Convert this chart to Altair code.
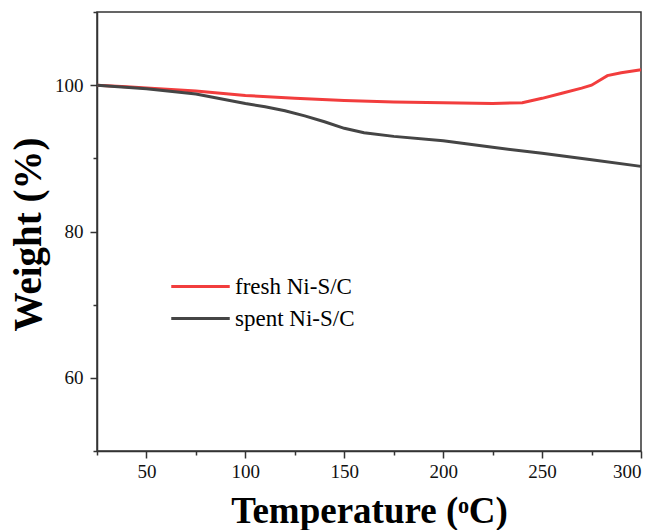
import altair as alt
import pandas as pd

# ---- data ----
temp_fresh = [25, 40, 50, 75, 100, 125, 150, 175, 200, 225, 240, 250, 260, 270, 275, 280, 283, 290, 300]
weight_fresh = [100.0, 99.8, 99.6, 99.2, 98.6, 98.2, 97.9, 97.7, 97.6, 97.5, 97.6, 98.2, 98.9, 99.6, 100.0, 100.8, 101.3, 101.7, 102.1]
temp_spent = [25, 50, 75, 100, 110, 120, 130, 140, 150, 160, 175, 200, 225, 250, 275, 300]
weight_spent = [100.0, 99.5, 98.8, 97.5, 97.05, 96.5, 95.8, 95.0, 94.1, 93.5, 93.0, 92.4, 91.5, 90.7, 89.8, 88.9]

series_names = ["fresh Ni-S/C", "spent Ni-S/C"]
series_colors = ["#f23d3d", "#454545"]

x_ticks = [25, 50, 75, 100, 125, 150, 175, 200, 225, 250, 275, 300]
y_ticks = [50, 60, 70, 80, 90, 100, 110]

df = pd.concat([
    pd.DataFrame({"T": temp_fresh, "W": weight_fresh, "s": series_names[0], "o": 0}),
    pd.DataFrame({"T": temp_spent, "W": weight_spent, "s": series_names[1], "o": 1}),
])

FONT = "Liberation Serif, Times New Roman, DejaVu Serif, serif"

chart = alt.Chart(df).mark_line(strokeWidth=3).encode(
    x=alt.X("T:Q",
            scale=alt.Scale(domain=[25, 300], nice=False, zero=False),
            axis=alt.Axis(
                values=x_ticks,
                title="Temperature (ᵒC)",
                labelExpr="datum.value % 50 === 0 ? datum.label : ''",
                tickSize={"condition": {"test": "datum.value % 50 === 0", "value": 7}, "value": 4},
                labelPadding=4,
                titleFontSize=37, titleFontWeight="bold",
                titleY=71, titleBaseline="alphabetic",
                grid=False,
            )),
    y=alt.Y("W:Q",
            scale=alt.Scale(domain=[50, 110], nice=False, zero=False),
            axis=alt.Axis(
                values=y_ticks,
                title="Weight (%)",
                labelExpr="datum.value % 20 === 0 ? datum.label : ''",
                tickSize={"condition": {"test": "datum.value % 20 === 0", "value": 7}, "value": 4},
                labelPadding=7,
                titleFontSize=39, titleFontWeight="bold",
                titleX=-57, titleY=222, titleAngle=-90,
                titleAlign="center", titleBaseline="alphabetic",
                grid=False,
            )),
    color=alt.Color("s:N",
                    scale=alt.Scale(domain=series_names, range=series_colors),
                    legend=alt.Legend(
                        title=None, orient="none", legendX=92, legendY=263,
                        symbolType="M-3,0H3", symbolSize=380, symbolStrokeWidth=3,
                        symbolFillColor="transparent",
                        labelFontSize=23, labelFont=FONT, rowPadding=8,
                        labelOffset=23, padding=0,
                    )),
    order="o:Q",
).properties(
    width=544, height=439,
    autosize="none",
    padding={"left": 97, "top": 12, "right": 19, "bottom": 79},
).configure_view(
    stroke="#333333", strokeWidth=1.5,
).configure_axis(
    labelFont=FONT, titleFont=FONT, labelFontSize=19,
    labelColor="#111111", titleColor="#000000",
    domainColor="#333333", domainWidth=1.5,
    tickColor="#333333", tickWidth=1.5,
)

chart.save("out.html", embed_options={"renderer": "svg", "actions": False})
